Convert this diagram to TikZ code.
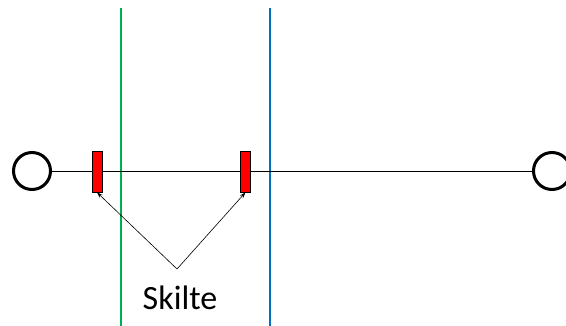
\documentclass[tikz,border=0pt]{standalone}
\usepackage{fontspec}
\setmainfont{Carlito}
\usepackage{tikz}
\usetikzlibrary{arrows.meta}
\definecolor{zonegreen}{RGB}{0,176,80}
\definecolor{zoneblue}{RGB}{0,112,192}
\tikzstyle{station} = [circle, draw=black, line width=3pt, minimum size=37pt, inner sep=0pt]
\tikzstyle{sign} = [rectangle, draw=black, fill=red, line width=0.8pt, minimum width=10pt, minimum height=41pt, inner sep=0pt]
\tikzstyle{pointer} = [draw=black, line width=0.6pt, -{Stealth[length=6pt,width=4pt]}]
\tikzstyle{label} = [font=\fontsize{34}{40}\selectfont, inner sep=0pt, anchor=base]

\begin{document}
\begin{tikzpicture}[x=1pt, y=-1pt]
\useasboundingbox (0,0) rectangle (566,326);
% Zone borders
\draw[zonegreen, line width=2pt] (121,8) -- (121,326);
\draw[zoneblue, line width=2pt] (270,8) -- (270,326);
% Stations and track
\node[station] (s1) at (32,171) {};
\node[station] (s2) at (552,171) {};
\draw[line width=0.8pt] (s1) -- (s2);
% Signs
\node[sign] (k1) at (97,171.5) {};
\node[sign] (k2) at (245.5,171.5) {};
% Label and pointers
\coordinate (apex) at (177,269);
\node[label] (skilte) at (180,310) {Skilte};
\draw[pointer] (apex) -- (k1.south);
\draw[pointer] (apex) -- (k2.south);
\end{tikzpicture}
\end{document}
